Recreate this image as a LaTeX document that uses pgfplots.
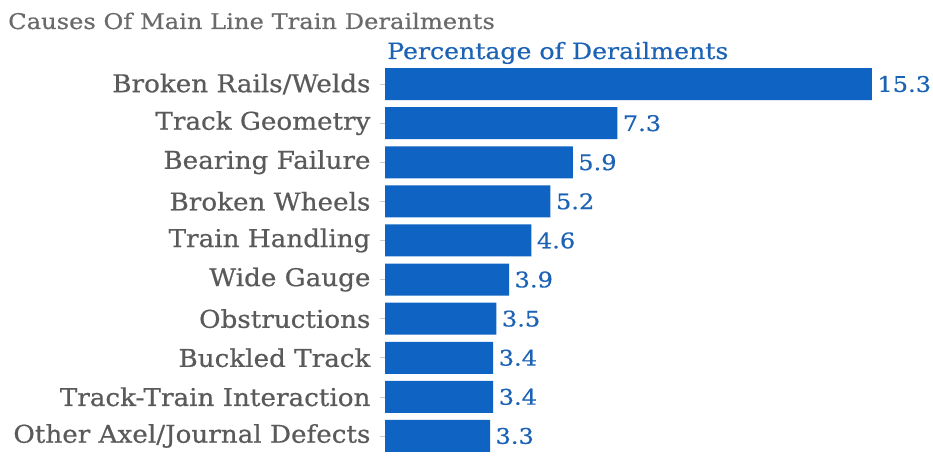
\documentclass[border=0pt]{standalone}
\usepackage{pgfplots}
\pgfplotsset{compat=1.18}
\usepackage{fontspec}
\setmainfont[FakeStretch=1.12]{DejaVu Serif}
\newfontfamily\labfont[FakeStretch=1.07, FakeBold=0.6]{DejaVu Serif}
\newfontfamily\titfont[FakeStretch=1.12, FakeBold=0.5]{DejaVu Serif}
\definecolor{barblue}{HTML}{0F63C2}
\definecolor{txtblue}{HTML}{1C63B5}
\definecolor{labgray}{HTML}{5A5A5A}
\definecolor{titgray}{HTML}{6A6A6A}
\begin{document}
\begin{tikzpicture}
\useasboundingbox (0,0) rectangle (933pt,456pt);
\node[anchor=base west, text=titgray, font=\titfont\fontsize{21.6}{24}\selectfont, inner sep=0pt] at (8pt,427pt) {Causes Of Main Line Train Derailments};
\node[anchor=base west, text=txtblue, font=\titfont\fontsize{22.5}{25}\selectfont, inner sep=0pt] at (387pt,397pt) {Percentage of Derailments};
\begin{axis}[
  at={(385pt,0.5pt)}, anchor=south west,
  scale only axis, width=548pt, height=391pt,
  xbar, bar width=32pt,
  xmin=0, xmax=17.22,
  ymin=-0.5, ymax=9.5, y dir=reverse,
  hide x axis,
  axis y line*=left,
  y axis line style={draw=none},
  ytick={0,...,9},
  yticklabels={Broken Rails/Welds,Track Geometry,Bearing Failure,Broken Wheels,Train Handling,Wide Gauge,Obstructions,Buckled Track,Track-Train Interaction,Other Axel/Journal Defects},
  yticklabel style={text=labgray, font=\labfont\fontsize{24.5}{27}\selectfont, xshift=-6pt},
  major tick length=5pt,
  tick style={draw=gray!40, line width=0.6pt},
  y tick label style={anchor=east},
  nodes near coords,
  nodes near coords style={text=txtblue, font=\titfont\fontsize{21.5}{24}\selectfont, anchor=west, xshift=2pt},
  point meta=x,
  every node near coord/.append style={/pgf/number format/.cd, fixed, fixed zerofill, precision=1, assume math mode=true},
  clip=false,
]
\addplot[fill=barblue, draw=none] coordinates {
(15.3,0) (7.3,1) (5.9,2) (5.2,3) (4.6,4) (3.9,5) (3.5,6) (3.4,7) (3.4,8) (3.3,9)};
\end{axis}
\end{tikzpicture}
\end{document}
